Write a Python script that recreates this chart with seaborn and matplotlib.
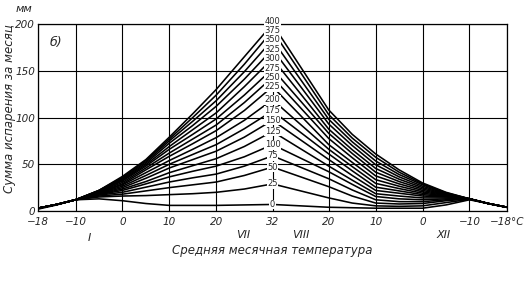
import matplotlib
matplotlib.use("Agg")
import matplotlib.pyplot as plt
import seaborn as sns
import pandas as pd

# ---- data ----
# positions along the temperature path (-18 ... 32 ... -18), in degrees travelled
path_pos = [0, 4, 8, 13, 18, 23, 28, 33, 38, 44, 50, 62, 67, 72, 77, 82, 87, 92, 96, 100]
# temperatures: -18,-14,-10,-5,0,5,10,15,20,26 | 32 | 20,15,10,5,0,-5,-10,-14,-18

tick_pos = [0, 8, 18, 28, 38, 50, 62, 72, 82, 92, 100]
tick_labels = ["−18", "−10", "0", "10", "20", "32", "20", "10", "0", "−10", ""]
last_tick_label = "−18°C"
month_labels = ["I", "VII", "VIII", "XII"]
month_pos = [11, 43.7, 56, 86.4]

curve_labels = [400, 375, 350, 325, 300, 275, 250, 225, 200, 175, 150, 125, 100, 75, 50, 25, 0]

evap_400 = [3, 7, 12, 22, 37, 55, 79, 104, 130, 165, 200, 108, 82, 61, 44, 30, 20, 13, 8, 4]
evap_375 = [3, 7, 12, 22, 36, 54, 77, 100, 124, 157, 193, 103, 78, 57.5, 41.5, 29, 19.5, 13, 8, 4]
evap_350 = [3, 7, 12, 22, 35, 52.5, 75, 96, 118, 149, 183, 98, 74, 53.5, 39, 28, 19, 13, 8, 4]
evap_325 = [3, 7, 12, 21.5, 34, 51, 72.5, 91.5, 112, 141, 173, 93, 70, 49.5, 36.5, 26.5, 18.5, 13, 8, 4]
evap_300 = [3, 7, 12, 21, 33, 49.5, 69, 87, 105, 133, 163, 87.5, 65.5, 45.5, 34, 25, 18, 13, 8, 4]
evap_275 = [3, 7, 12, 21, 32, 48, 66, 82, 98.5, 124, 152, 83, 61.5, 41.5, 31.5, 23.5, 17.5, 13, 8, 4]
evap_250 = [3, 7, 12, 20.5, 30.5, 46, 62, 77, 92, 116, 143, 77.5, 57, 37.5, 29, 22, 17, 13, 8, 4]
evap_225 = [3, 7, 12, 20, 29, 44, 58.5, 72, 86, 107.5, 133, 71, 52, 33.5, 26.5, 20.5, 16.5, 13, 8, 4]
evap_200 = [3, 7, 12, 19.5, 28, 41, 54, 66, 78.5, 97, 119, 66, 47.5, 29.5, 24, 19, 16, 13, 8, 4]
evap_175 = [3, 7, 12, 19, 26.5, 38, 50, 60.5, 71, 88, 107, 61, 43, 25.5, 21.5, 17.5, 15.5, 13, 8, 4]
evap_150 = [3, 7, 12, 18.5, 25, 35, 46, 55, 64, 79, 97, 55, 38, 22, 19, 16, 15, 13, 8, 4]
evap_125 = [3, 7, 12, 18, 23.5, 31.5, 41, 48.5, 56, 69, 85, 48, 33, 18.5, 16, 14, 14, 13, 8, 4]
evap_100 = [3, 7, 12, 17.5, 22, 29, 36.5, 42.5, 48, 58, 71, 42, 28.5, 15.5, 13, 12, 13, 13, 8, 4]
evap_75 = [3, 7, 12, 17, 20, 25.5, 31, 35.5, 39.5, 48, 59, 34.5, 22.5, 12, 10, 10, 12, 13, 8, 4]
evap_50 = [3, 7, 12, 16, 18, 21.5, 25, 28, 31, 38, 47, 26, 16, 8.5, 7.5, 8, 11, 13, 8, 4]
evap_25 = [3, 7, 12, 15, 16, 16.5, 17.5, 18.5, 20, 23.5, 29, 14, 8.5, 5.5, 5, 5.5, 9, 12.5, 8, 4]
evap_0 = [2, 6.5, 12, 13, 11, 8, 6, 6, 6, 6.5, 7, 4, 3.5, 3, 3, 3, 6.5, 12, 8, 4]

series = [evap_400, evap_375, evap_350, evap_325, evap_300, evap_275, evap_250, evap_225,
          evap_200, evap_175, evap_150, evap_125, evap_100, evap_75, evap_50, evap_25, evap_0]

rows = []
for lbl, vals in zip(curve_labels, series):
    for p, v in zip(path_pos, vals):
        rows.append({"pos": p, "mm": v, "curve": lbl})
df = pd.DataFrame(rows)

# ---- figure ----
sns.set_style("white")
plt.rcParams["font.family"] = ["DejaVu Sans"]

fig = plt.figure(figsize=(5.25, 2.81), dpi=100)
ax = fig.add_axes([0.0724, 0.2491, 0.8933, 0.6655])

sns.lineplot(data=df, x="pos", y="mm", units="curve", estimator=None, sort=False,
             color="black", lw=1.15, ax=ax, legend=False)

ax.set_xlim(0, 100)
ax.set_ylim(0, 200)
ax.set_xticks(tick_pos)
ax.set_xticklabels(tick_labels, fontstyle="italic", fontsize=7.5)
ax.set_yticks([0, 50, 100, 150, 200])
ax.set_yticklabels(["0", "50", "100", "150", "200"], fontstyle="italic", fontsize=7.5)
ax.tick_params(axis="x", length=0, pad=4.5)
ax.tick_params(axis="y", length=0, pad=2)
ax.grid(True, color="black", lw=0.8)
ax.set_axisbelow(True)
for sp in ax.spines.values():
    sp.set_color("black")
    sp.set_linewidth(0.9)
ax.set_xlabel("")
ax.set_ylabel("")

# last tick label with the unit, ending at the right edge of the picture
fig.text(524 / 525, 1 - 222 / 281, last_tick_label, ha="right", va="center",
         fontstyle="italic", fontsize=7.5)

# curve labels on the July column
peak_idx = path_pos.index(50)
for lbl, vals in zip(curve_labels, series):
    yv = vals[peak_idx] + (3 if lbl == 400 else 0)
    ax.text(50, yv, str(lbl), ha="center", va="center", fontsize=6, zorder=6,
            bbox=dict(boxstyle="square,pad=0.05", fc="white", ec="none"))

# month labels
for m, p, yy in zip(month_labels, month_pos, [-29, -26, -26, -26]):
    ax.text(p, yy, m, ha="center", va="center", fontstyle="italic", fontsize=8, clip_on=False)

ax.text(3.8, 180, "б)", ha="center", va="center", fontstyle="italic", fontsize=9)
ax.text(50, -42, "Средняя месячная температура", ha="center", va="center",
        fontstyle="italic", fontsize=8.5, clip_on=False)

fig.text(0.018, 0.612, "Сумма испарения за месяц", rotation=90, ha="center", va="center",
         fontstyle="italic", fontsize=8.5)
fig.text(24 / 525, 1 - 9 / 281, "мм", ha="center", va="center", fontstyle="italic", fontsize=8)

fig.savefig("out.png", dpi=100)
